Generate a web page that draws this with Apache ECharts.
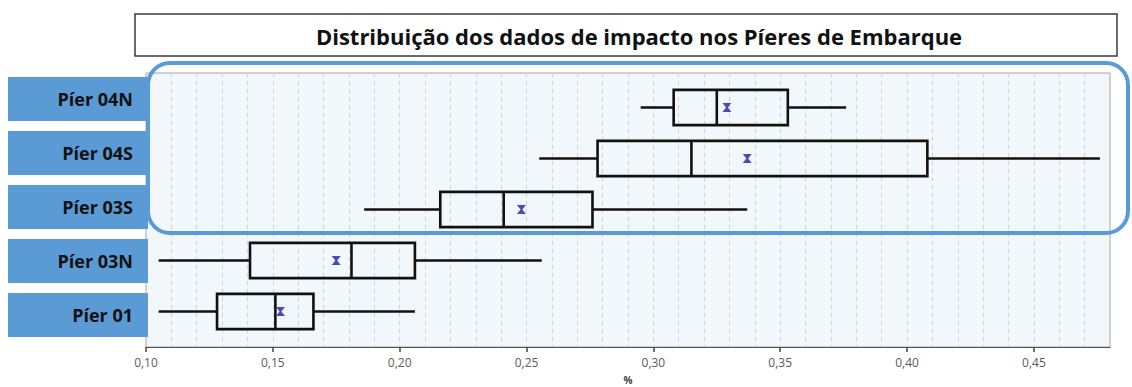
<!DOCTYPE html>
<html>
<head>
<meta charset="utf-8">
<script src="https://cdn.jsdelivr.net/npm/echarts@6/dist/echarts.min.js"></script>
<style>
html,body{margin:0;padding:0;background:#fff;}
#chart{width:1132px;height:387px;}
</style>
</head>
<body>
<div id="chart"></div>
<script>
// ---- data ----
const titleText = 'Distribuição dos dados de impacto nos Píeres de Embarque';
const categories = ['Píer 04N', 'Píer 04S', 'Píer 03S', 'Píer 03N', 'Píer 01'];
const whiskerLow  = [0.295, 0.255, 0.186, 0.105, 0.105];
const q1          = [0.308, 0.278, 0.216, 0.141, 0.128];
const median      = [0.325, 0.315, 0.241, 0.181, 0.151];
const q3          = [0.353, 0.408, 0.276, 0.206, 0.166];
const whiskerHigh = [0.376, 0.476, 0.337, 0.256, 0.206];
const mean        = [0.329, 0.337, 0.248, 0.175, 0.153];
const xMin = 0.10, xMax = 0.48, majorStep = 0.05, minorStep = 0.01;
const xName = '%';

// ---- build ----
const boxData = categories.map((c, i) => [i, whiskerLow[i], q1[i], median[i], q3[i], whiskerHigh[i]]);
const meanData = categories.map((c, i) => [mean[i], i]);
const fmt = v => v.toFixed(2).replace('.', ',');

const chart = echarts.init(document.getElementById('chart'), null, {renderer: 'svg'});

const labelFont = '"Open Sans", Lato, sans-serif';
const graphics = [];
graphics.push({
  type: 'rect', z: 1,
  shape: {x: 135, y: 14, width: 982, height: 42},
  style: {fill: '#fff', stroke: '#3a3a3a', lineWidth: 1.5}
});
graphics.push({
  type: 'text', z: 2, x: 639, y: 36,
  style: {text: titleText, fill: '#111', font: 'bold 22px ' + labelFont, textAlign: 'center', textVerticalAlign: 'middle'}
});
categories.forEach((c, i) => {
  graphics.push({
    type: 'rect', z: 50,
    shape: {x: 8, y: 77 + 54 * i, width: 140, height: 44},
    style: {fill: '#5B9BD5'}
  });
  graphics.push({
    type: 'text', z: 51, x: 133, y: 99 + 54 * i,
    style: {text: c, fill: '#111', font: 'bold 18px ' + labelFont, textAlign: 'right', textVerticalAlign: 'middle'}
  });
});
// highlight frame around the upper three piers
graphics.push({
  type: 'rect', z: 40,
  shape: {x: 148, y: 63, width: 980, height: 170, r: 22},
  style: {fill: 'none', stroke: '#5B9BD5', lineWidth: 4}
});

const option = {
  animation: false,
  backgroundColor: '#fff',
  grid: [
    {left: 146, right: 22, top: 73, bottom: 40, show: true, backgroundColor: '#F1F7FA',
     borderColor: '#A8A8A8', borderWidth: 1, outerBoundsMode: 'none', containLabel: false},
    {left: 146, right: 22, top: 82, height: 255, outerBoundsMode: 'none', containLabel: false}
  ],
  xAxis: [
    {type: 'value', gridIndex: 0, min: xMin, max: xMax, interval: minorStep,
     axisLine: {show: false}, axisTick: {show: false}, axisLabel: {show: false},
     splitLine: {show: true, lineStyle: {color: '#D0D0D0', type: [4, 4], width: 1}}},
    {type: 'value', gridIndex: 0, min: xMin, max: xMax, interval: majorStep, position: 'bottom',
     axisLine: {show: true, lineStyle: {color: '#555', width: 1.2}},
     axisTick: {show: true, length: 5, lineStyle: {color: '#444', width: 1.5}},
     axisLabel: {show: true, formatter: fmt, color: '#5a5a5a', fontSize: 12, fontFamily: '"Open Sans", sans-serif', margin: 9, showMaxLabel: false},
     splitLine: {show: false},
     name: xName, nameLocation: 'middle', nameGap: 27,
     nameTextStyle: {color: '#444', fontSize: 10, fontWeight: 'bold', fontFamily: '"Open Sans", sans-serif', verticalAlign: 'top', lineHeight: 11}},
    {type: 'value', gridIndex: 1, min: xMin, max: xMax, show: false, splitLine: {show: false}}
  ],
  yAxis: [
    {type: 'value', gridIndex: 0, show: false, splitLine: {show: false}},
    {type: 'category', gridIndex: 1, data: categories, inverse: true, show: false}
  ],
  series: [
    {
      type: 'custom', xAxisIndex: 2, yAxisIndex: 1, z: 5,
      data: boxData,
      encode: {x: [1, 2, 3, 4, 5], y: 0},
      renderItem: function (params, api) {
        const cat = api.value(0);
        const pWL = api.coord([api.value(1), cat]);
        const pQ1 = api.coord([api.value(2), cat]);
        const pMed = api.coord([api.value(3), cat]);
        const pQ3 = api.coord([api.value(4), cat]);
        const pWH = api.coord([api.value(5), cat]);
        const band = api.size([0, 1])[1];
        const h = band * 0.69;
        const y = pQ1[1];
        const st = {stroke: '#111', lineWidth: 2.6, fill: null};
        return {type: 'group', children: [
          {type: 'line', shape: {x1: pWL[0], y1: y, x2: pQ1[0], y2: y}, style: st},
          {type: 'line', shape: {x1: pQ3[0], y1: y, x2: pWH[0], y2: y}, style: st},
          {type: 'rect', shape: {x: pQ1[0], y: y - h / 2, width: pQ3[0] - pQ1[0], height: h}, style: {stroke: '#111', lineWidth: 2.6, fill: 'rgba(0,0,0,0)'}},
          {type: 'line', shape: {x1: pMed[0], y1: y - h / 2, x2: pMed[0], y2: y + h / 2}, style: st}
        ]};
      }
    },
    {
      type: 'scatter', xAxisIndex: 2, yAxisIndex: 1, z: 6,
      data: meanData,
      symbol: 'path://M0,0 L10,0 L6,5 L10,10 L0,10 L4,5 Z',
      symbolSize: [9, 9],
      itemStyle: {color: '#1E1EA6'}
    }
  ],
  graphic: graphics
};
chart.setOption(option);
</script>
</body>
</html>
